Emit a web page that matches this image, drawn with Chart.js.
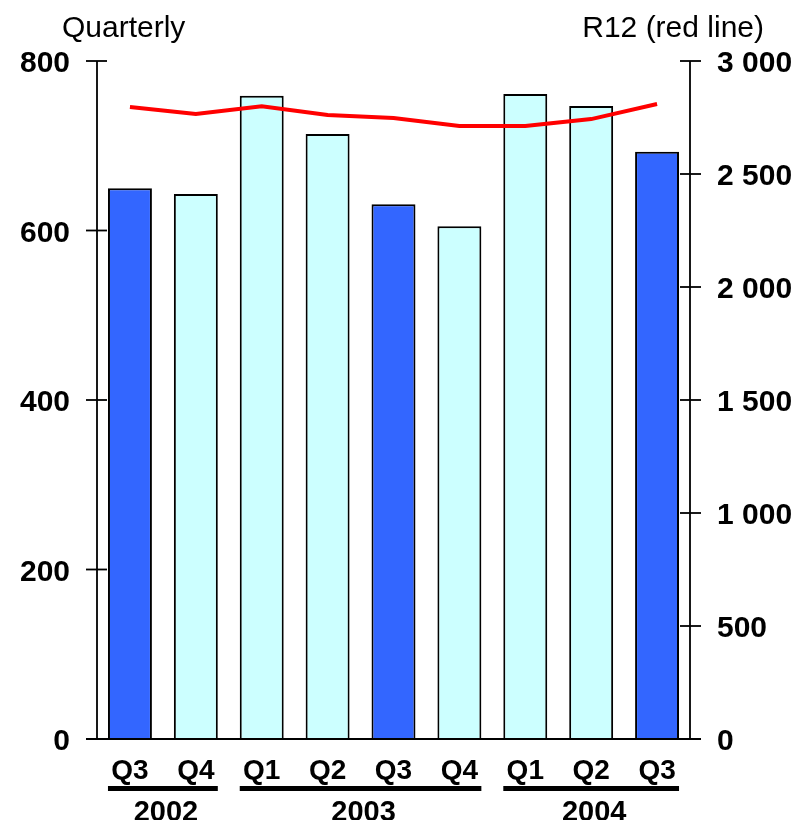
<!DOCTYPE html>
<html>
<head>
<meta charset="utf-8">
<script src="https://cdn.jsdelivr.net/npm/chart.js@4"></script>
<style>
  html, body { margin: 0; padding: 0; background: #fff; }
  canvas { display: block; }
</style>
</head>
<body>
<canvas id="chart" width="802" height="820"></canvas>
<script>
const quarters = ["Q3", "Q4", "Q1", "Q2", "Q3", "Q4", "Q1", "Q2", "Q3"];
const years = ["2002", "2002", "2003", "2003", "2003", "2003", "2004", "2004", "2004"];
const quarterly = [650, 643, 759, 714, 631, 605, 761, 747, 693];
const r12 = [2796, 2765, 2800, 2761, 2748, 2712, 2712, 2743, 2810];
const leftTicks = [0, 200, 400, 600, 800];
const rightTicks = [0, 500, 1000, 1500, 2000, 2500, 3000];
const rightTickLabels = ["0", "500", "1 000", "1 500", "2 000", "2 500", "3 000"];

const DARK = "#3366ff";
const LIGHT = "#ccffff";
const barColors = quarters.map((q) => (q === "Q3" ? DARK : LIGHT));

const FONT = "'Liberation Sans', Arial, sans-serif";

const axesPlugin = {
  id: "axesPlugin",
  afterDraw(chart) {
    const ctx = chart.ctx;
    const { x, y, y1 } = chart.scales;
    const area = chart.chartArea;
    ctx.save();
    ctx.strokeStyle = "#000";
    ctx.fillStyle = "#000";
    ctx.lineWidth = 1.8;

    // axis lines
    ctx.beginPath();
    ctx.moveTo(area.left, area.top);
    ctx.lineTo(area.left, area.bottom);
    ctx.moveTo(area.right, area.top);
    ctx.lineTo(area.right, area.bottom);
    ctx.moveTo(area.left - 11, area.bottom);
    ctx.lineTo(area.right + 11, area.bottom);
    ctx.stroke();

    // left ticks and labels
    ctx.font = "bold 30px " + FONT;
    ctx.textBaseline = "alphabetic";
    ctx.textAlign = "right";
    leftTicks.forEach((v) => {
      const py = y.getPixelForValue(v);
      ctx.beginPath();
      ctx.moveTo(area.left - 11, py);
      ctx.lineTo(area.left + 10, py);
      ctx.stroke();
      ctx.fillText(String(v), area.left - 27, py + 11);
    });

    // right ticks and labels
    ctx.textAlign = "left";
    rightTicks.forEach((v, i) => {
      const py = y1.getPixelForValue(v);
      ctx.beginPath();
      ctx.moveTo(area.right - 10, py);
      ctx.lineTo(area.right + 11, py);
      ctx.stroke();
      ctx.fillText(rightTickLabels[i], area.right + 27, py + 11);
    });

    // axis titles
    ctx.font = "30px " + FONT;
    ctx.textAlign = "left";
    ctx.fillText("Quarterly", 62, 37);
    ctx.textAlign = "right";
    ctx.fillText("R12 (red line)", 764, 37);

    // quarter labels
    ctx.font = "bold 28px " + FONT;
    ctx.textAlign = "center";
    quarters.forEach((q, i) => {
      ctx.fillText(q, x.getPixelForValue(i), 779);
    });

    // year groups
    const meta = chart.getDatasetMeta(0);
    const groups = [];
    years.forEach((yr, i) => {
      const g = groups[groups.length - 1];
      if (g && g.year === yr) g.end = i;
      else groups.push({ year: yr, start: i, end: i });
    });
    ctx.font = "bold 29px " + FONT;
    groups.forEach((g) => {
      const b0 = meta.data[g.start];
      const b1 = meta.data[g.end];
      const x0 = b0.x - b0.width / 2;
      const x1 = b1.x + b1.width / 2;
      ctx.fillRect(x0, 786, x1 - x0, 5);
      ctx.fillText(g.year, (x0 + x1) / 2 + 3, 821);
    });
    ctx.restore();
  },
};

new Chart(document.getElementById("chart"), {
  type: "bar",
  data: {
    labels: quarters.map((q, i) => q + " " + years[i]),
    datasets: [
      {
        type: "bar",
        label: "Quarterly",
        data: quarterly,
        backgroundColor: barColors,
        borderColor: "#000",
        borderWidth: 2,
        categoryPercentage: 1,
        barPercentage: 0.667,
        yAxisID: "y",
        order: 2,
      },
      {
        type: "line",
        label: "R12",
        data: r12,
        borderColor: "#ff0000",
        borderWidth: 4,
        pointRadius: 0,
        tension: 0,
        fill: false,
        yAxisID: "y1",
        order: 1,
      },
    ],
  },
  options: {
    responsive: false,
    animation: false,
    layout: { padding: { left: 97, right: 112, top: 61, bottom: 81 } },
    plugins: {
      legend: { display: false },
      tooltip: { enabled: false },
    },
    scales: {
      x: { display: false, offset: true },
      y: { display: false, min: 0, max: 800 },
      y1: { display: false, position: "right", min: 0, max: 3000 },
    },
  },
  plugins: [axesPlugin],
});
</script>
</body>
</html>
